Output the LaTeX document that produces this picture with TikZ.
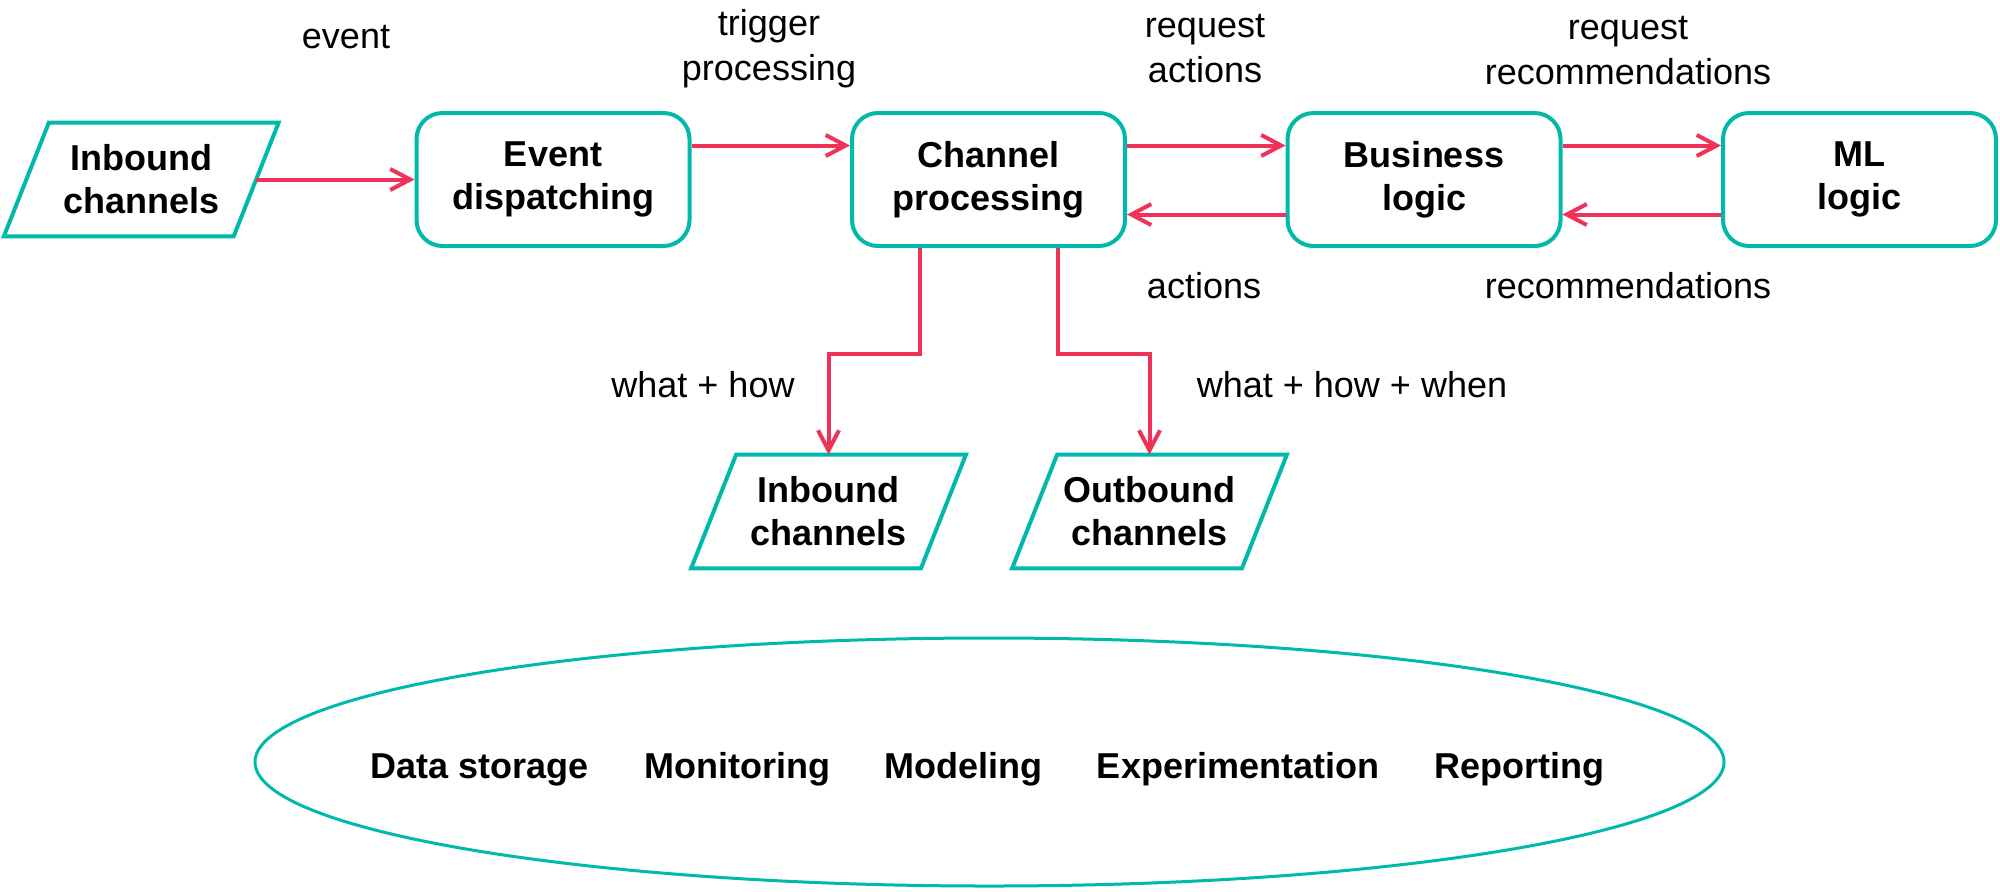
\documentclass[tikz,border=0pt]{standalone}
\usepackage{fontspec}
\setmainfont{Liberation Sans}
\usetikzlibrary{arrows.meta,shapes.geometric,calc}
\definecolor{tealc}{RGB}{0,185,170}
\definecolor{redc}{RGB}{238,50,88}
\newcommand\parashape[1]{\draw[draw=tealc,line width=2pt] ([xshift=11.25pt]#1.north west) -- ([xshift=11.25pt]#1.north east) -- ([xshift=-11.25pt]#1.south east) -- ([xshift=-11.25pt]#1.south west) -- cycle;}
\begin{document}
\begin{tikzpicture}[x=0.5pt,y=-0.5pt,
  box/.style={draw=tealc, line width=2pt, rounded corners=13pt, minimum width=136.5pt, minimum height=66.5pt, align=center, font=\bfseries\fontsize{18}{21.5}\selectfont, inner sep=0pt},
  para/.style={minimum width=114.5pt, minimum height=56.5pt, align=center, font=\bfseries\fontsize{18}{21.5}\selectfont, inner sep=0pt},
  lbl/.style={align=center, font=\fontsize{18}{22.5}\selectfont, inner sep=0pt},
  item/.style={font=\bfseries\fontsize{18}{21.5}\selectfont, inner sep=0pt, anchor=base},
  arr/.style={draw=redc, line width=2pt, -{Straight Barb[length=10pt,width=10.5pt]}}
]
\useasboundingbox (0,0) rectangle (2000,891);

% main nodes
\node[para] (in1) at (141.25,179.5) {Inbound\\channels};
\parashape{in1}
\node[box] (ev) at (553,179.5) {Event\\dispatching};
\node[box] (cp) at (988.5,179.5) {Channel\\processing};
\node[box] (bl) at (1424,179.5) {Business\\logic};
\node[box] (ml) at (1859.5,179.5) {ML\\logic};
\node[para] (in2) at (828.5,511.5) {Inbound\\channels};
\parashape{in2}
\node[para] (out) at (1149.5,511.5) {Outbound\\channels};
\parashape{out}

% connectors
\draw[arr] (in1.east) -- (ev.west);
\draw[arr] ([yshift=17pt]ev.east) -- ([yshift=17pt]cp.west);
\draw[arr] ([yshift=17pt]cp.east) -- ([yshift=17pt]bl.west);
\draw[arr] ([yshift=-17.5pt]bl.west) -- ([yshift=-17.5pt]cp.east);
\draw[arr] ([yshift=17pt]bl.east) -- ([yshift=17pt]ml.west);
\draw[arr] ([yshift=-17.5pt]ml.west) -- ([yshift=-17.5pt]bl.east);
\draw[arr] ([xshift=-34.25pt]cp.south) -- ++(0,106) -| (in2.north);
\draw[arr] ([xshift=34.75pt]cp.south) -- ++(0,106) -| (out.north);

% labels
\node[lbl] (l1) at (346,37) {event};
\node[lbl] (l2) at (769,49) {trigger\\processing};
\node[lbl] (l3) at (1205,49) {request\\actions};
\node[lbl] (l4) at (1628,51) {request\\recommendations};
\node[lbl] (l5) at (1204,286) {actions};
\node[lbl] (l6) at (1628,286) {recommendations};
\node[lbl] (l7) at (703,385) {what + how};
\node[lbl] (l8) at (1352,385) {what + how + when};

% platform ellipse
\node[ellipse, draw=tealc, line width=1.5pt, minimum width=734.5pt, minimum height=124pt, inner sep=0pt] (plat) at (989.5,762) {};
\node[item] (ds) at (480,778) {Data storage};
\node[item] (mo) at (737,778) {Monitoring};
\node[item] (md) at (963,778) {Modeling};
\node[item] (ex) at (1238,778) {Experimentation};
\node[item] (rp) at (1519,778) {Reporting};
\end{tikzpicture}
\end{document}
